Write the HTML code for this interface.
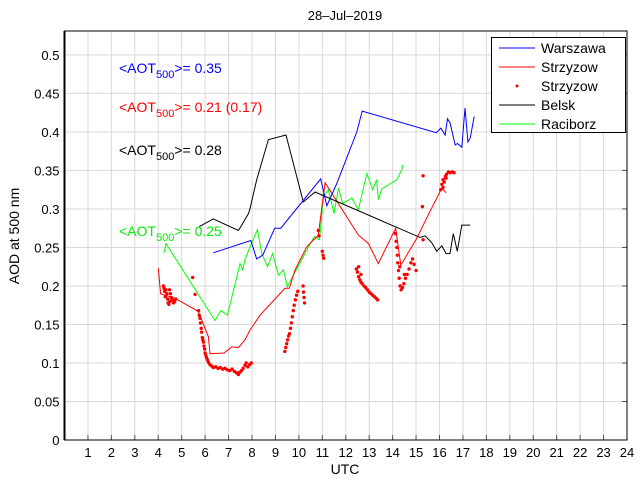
<!DOCTYPE html>
<html><head><meta charset="utf-8">
<style>
html,body{margin:0;padding:0;background:#fff;}
svg{display:block;font-family:"Liberation Sans",sans-serif;}
</style></head>
<body>
<svg id="chart" width="640" height="480" viewBox="0 0 640 480" xmlns="http://www.w3.org/2000/svg">
<rect x="0" y="0" width="640" height="480" fill="#fff"/>
<g id="grid"></g>
<g id="series"></g>
<g id="axes"></g>
<text x="345" y="20" font-size="13" text-anchor="middle">28–Jul–2019</text>
<text x="345" y="474" font-size="14" text-anchor="middle">UTC</text>
<text transform="translate(19,236) rotate(-90)" font-size="14" text-anchor="middle">AOD at 500 nm</text>
<text x="119" y="73" font-size="14" fill="#0000ff">&lt;AOT<tspan font-size="11" dy="5">500</tspan><tspan dy="-5">&gt;= 0.35</tspan></text>
<text x="119" y="112" font-size="14" fill="#ff0000">&lt;AOT<tspan font-size="11" dy="5">500</tspan><tspan dy="-5">&gt;= 0.21 (0.17)</tspan></text>
<text x="119" y="155" font-size="14" fill="#000">&lt;AOT<tspan font-size="11" dy="5">500</tspan><tspan dy="-5">&gt;= 0.28</tspan></text>
<text x="119" y="236" font-size="14" fill="#00ee00">&lt;AOT<tspan font-size="11" dy="5">500</tspan><tspan dy="-5">&gt;= 0.25</tspan></text>
<g>
<rect x="491.5" y="37.5" width="134" height="95" fill="#fff" stroke="#000" stroke-width="1"/>
<g><line x1="499" y1="48" x2="535" y2="48" stroke="#0000ff"/><text x="541" y="53" font-size="14">Warszawa</text></g>
<g><line x1="499" y1="67" x2="535" y2="67" stroke="#ff0000"/><text x="541" y="72" font-size="14">Strzyzow</text></g>
<g><circle cx="517" cy="86" r="1.5" fill="#ff0000"/><text x="541" y="91" font-size="14">Strzyzow</text></g>
<g><line x1="499" y1="105" x2="535" y2="105" stroke="#000"/><text x="541" y="110" font-size="14">Belsk</text></g>
<g><line x1="499" y1="124" x2="535" y2="124" stroke="#00ff00"/><text x="541" y="129" font-size="14">Raciborz</text></g>
</g>
</svg>
<script>
const xTicks = [1,2,3,4,5,6,7,8,9,10,11,12,13,14,15,16,17,18,19,20,21,22,23,24];
const yTicks = [0,0.05,0.1,0.15,0.2,0.25,0.3,0.35,0.4,0.45,0.5];
const yTickLabels = ["0","0.05","0.1","0.15","0.2","0.25","0.3","0.35","0.4","0.45","0.5"];
const warszawaX = [6.35,7.95,8.20,8.46,8.97,9.23,10.93,11.19,11.62,12.47,12.70,15.86,16.06,16.24,16.34,16.45,16.67,16.77,16.95,17.09,17.21,17.31,17.48];
const warszawaY = [0.243,0.259,0.235,0.240,0.275,0.275,0.339,0.304,0.333,0.400,0.427,0.399,0.405,0.396,0.417,0.412,0.383,0.385,0.380,0.431,0.387,0.392,0.420];
const belskX = [5.75,6.35,7.42,7.56,7.85,7.92,8.20,8.70,9.45,10.19,10.69,15.17,15.39,15.67,15.88,16.10,16.28,16.45,16.59,16.76,16.95,17.31];
const belskY = [0.277,0.287,0.272,0.279,0.294,0.301,0.338,0.390,0.396,0.309,0.322,0.263,0.265,0.256,0.245,0.252,0.242,0.242,0.268,0.245,0.279,0.279];
const raciborzX = [4.25,4.33,6.42,6.67,6.95,7.32,7.49,7.60,7.70,7.92,8.23,8.42,8.66,8.88,9.13,9.34,9.51,9.80,10.12,10.41,10.66,10.88,11.05,11.26,11.50,11.69,11.87,12.26,12.54,12.90,13.15,13.32,13.39,13.54,14.18,14.39,14.43];
const raciborzY = [0.243,0.255,0.155,0.168,0.162,0.208,0.229,0.221,0.234,0.251,0.273,0.242,0.225,0.242,0.214,0.221,0.199,0.216,0.234,0.251,0.264,0.260,0.316,0.325,0.294,0.327,0.307,0.314,0.299,0.346,0.325,0.338,0.312,0.326,0.338,0.351,0.357];
const strzyzowX = [4.00,4.10,4.72,5.71,6.14,6.21,6.81,7.14,7.42,7.70,7.92,8.34,9.41,9.59,9.84,10.34,10.83,11.12,12.54,12.97,13.39,14.13,14.35,15.03,15.60,16.10,16.28];
const strzyzowY = [0.223,0.190,0.184,0.167,0.134,0.112,0.113,0.121,0.120,0.130,0.143,0.162,0.197,0.197,0.221,0.251,0.266,0.334,0.266,0.255,0.229,0.275,0.227,0.262,0.297,0.327,0.321];
const dotsX = [4.22,4.25,4.27,4.30,4.33,4.37,4.40,4.42,4.45,4.50,4.55,4.60,4.65,4.70,4.75,4.48,4.52,5.47,5.57,
5.72,5.75,5.78,5.80,5.83,5.85,5.88,5.90,5.93,5.95,5.98,6.00,6.03,6.06,6.10,6.14,
6.20,6.28,6.35,6.45,6.55,6.65,6.75,6.85,6.95,7.05,7.15,7.25,7.35,7.42,7.48,7.55,7.62,7.70,7.75,7.82,7.90,7.97,
9.40,9.44,9.48,9.52,9.56,9.60,9.64,9.68,9.72,9.76,9.80,9.85,9.90,9.95,10.18,10.20,10.22,10.24,
10.83,10.86,11.00,11.03,11.06,
12.45,12.50,12.55,12.60,12.65,12.70,12.78,12.85,12.92,13.00,13.08,13.15,13.22,13.30,13.36,12.55,12.65,
14.12,14.15,14.18,14.20,14.22,14.25,14.28,14.32,14.36,14.42,14.48,14.55,14.62,14.70,14.78,14.85,14.92,15.00,14.30,14.50,
15.27,15.30,15.30,
16.05,16.10,16.15,16.20,16.25,16.30,16.38,16.45,16.55,16.62,16.15,16.28];
const dotsY = [0.200,0.197,0.193,0.186,0.195,0.190,0.183,0.178,0.176,0.180,0.185,0.182,0.178,0.180,0.183,0.195,0.190,0.211,0.189,
0.168,0.162,0.158,0.152,0.145,0.140,0.133,0.130,0.127,0.122,0.118,0.113,0.110,0.107,0.104,0.101,
0.098,0.096,0.094,0.095,0.093,0.094,0.092,0.093,0.091,0.090,0.092,0.089,0.087,0.085,0.088,0.090,0.093,0.097,0.100,0.095,0.098,0.100,
0.115,0.120,0.125,0.130,0.135,0.138,0.145,0.152,0.160,0.168,0.175,0.182,0.188,0.193,0.200,0.192,0.185,0.178,
0.272,0.265,0.245,0.240,0.236,
0.222,0.218,0.212,0.208,0.205,0.203,0.200,0.198,0.195,0.192,0.190,0.188,0.186,0.184,0.182,0.225,0.215,
0.268,0.258,0.250,0.240,0.230,0.220,0.210,0.200,0.195,0.198,0.203,0.210,0.215,0.222,0.230,0.235,0.228,0.220,0.225,0.215,
0.303,0.343,0.260,
0.325,0.332,0.338,0.335,0.342,0.345,0.348,0.347,0.348,0.347,0.328,0.340];

const NS = "http://www.w3.org/2000/svg";
const L = 64.5, R = 627, T = 31, B = 440;
const X_MIN = 0, X_MAX = 24, Y_MIN = 0, Y_MAX = 0.531;
function xs(v){ return L + (v - X_MIN) / (X_MAX - X_MIN) * (R - L); }
function ys(v){ return B - (v - Y_MIN) / (Y_MAX - Y_MIN) * (B - T); }
function mk(tag, attrs, parent){
  const el = document.createElementNS(NS, tag);
  for (const k in attrs) el.setAttribute(k, attrs[k]);
  parent.appendChild(el);
  return el;
}
const grid = document.getElementById('grid');
const axes = document.getElementById('axes');
const series = document.getElementById('series');

xTicks.forEach(t => {
  const x = xs(t);
  const g = mk('line', {x1:x, y1:T, x2:x, y2:B, stroke:'#d9d9d9', 'stroke-width':1}, grid);
  
  
  const tk = mk('line', {x1:x, y1:B, x2:x, y2:B-5, stroke:'#555', 'stroke-width':1}, axes);
  
  
  const lb = mk('text', {x:x, y:B+17, 'font-size':13, 'text-anchor':'middle'}, axes);
  lb.textContent = String(t);
  
  
});
yTicks.forEach((t, i) => {
  const y = ys(t);
  if (t > 0) {
    const g = mk('line', {x1:L, y1:y, x2:R, y2:y, stroke:'#d9d9d9', 'stroke-width':1}, grid);
    
    
    const tk = mk('line', {x1:R, y1:y, x2:R-5, y2:y, stroke:'#555', 'stroke-width':1}, axes);
    
    
  }
  const lb = mk('text', {x:L-5, y:y+5, 'font-size':13, 'text-anchor':'end'}, axes);
  lb.textContent = yTickLabels[i];
  
  
});
const frame = mk('rect', {x:L, y:T, width:R-L, height:B-T, fill:'none', stroke:'#000', 'stroke-width':1}, axes);


const yax = mk('line', {x1:L, y1:T, x2:L, y2:B, stroke:'#000', 'stroke-width':2}, axes);



function line(xa, ya, color, name){
  const pts = xa.map((x, i) => xs(x).toFixed(1) + ',' + ys(ya[i]).toFixed(1)).join(' ');
  const p = mk('polyline', {points:pts, fill:'none', stroke:color, 'stroke-width':1}, series);
  
  
}
line(raciborzX, raciborzY, '#00ff00', 'raciborz-line');
line(strzyzowX, strzyzowY, '#ff0000', 'strzyzow-line');
line(belskX, belskY, '#000000', 'belsk-line');
line(warszawaX, warszawaY, '#0000ff', 'warszawa-line');
dotsX.forEach((x, i) => {
  const c = mk('circle', {cx:xs(x), cy:ys(dotsY[i]), r:1.7, fill:'#ff0000'}, series);
  
  
});
</script>
</body></html>
